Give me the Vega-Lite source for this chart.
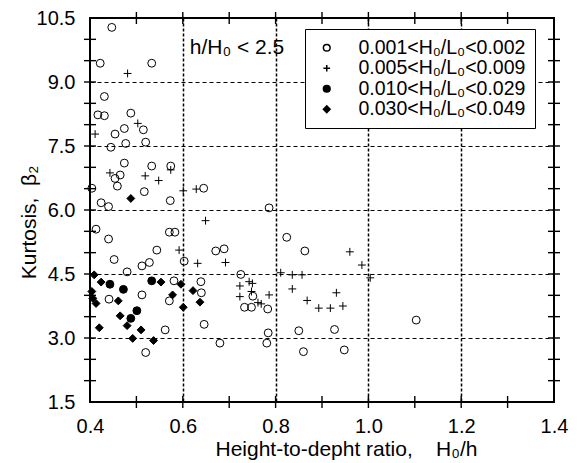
{
  "$schema": "https://vega.github.io/schema/vega-lite/v6.json",
  "width": 464,
  "height": 384,
  "autosize": {"type": "none"},
  "padding": {"left": 90, "top": 18, "right": 27, "bottom": 61},
  "background": "white",
  "config": {
    "font": "Liberation Sans",
    "view": {"stroke": "black", "strokeWidth": 2},
    "axis": {
      "domain": false,
      "labelFont": "Liberation Sans",
      "labelFontSize": 20,
      "labelColor": "black",
      "labelFlush": false,
      "labelOverlap": false,
      "titleFont": "Liberation Sans",
      "titleFontSize": 21,
      "titleFontWeight": "normal",
      "titleColor": "black"
    }
  },
  "datasets": {
    "xticks": [{"t": 0.5}, {"t": 0.6}, {"t": 0.7}, {"t": 0.8}, {"t": 0.9}, {"t": 1.0}, {"t": 1.1}, {"t": 1.2}, {"t": 1.3}],
    "yticks": [{"t": 2}, {"t": 2.5}, {"t": 3}, {"t": 3.5}, {"t": 4}, {"t": 4.5}, {"t": 5}, {"t": 5.5}, {"t": 6}, {"t": 6.5}, {"t": 7}, {"t": 7.5}, {"t": 8}, {"t": 8.5}, {"t": 9}, {"t": 9.5}, {"t": 10}]
  },
  "data": {
    "values": [
      {"x": 0.447, "y": 10.28, "s": "A"}, {"x": 0.422, "y": 9.44, "s": "A"}, {"x": 0.533, "y": 9.44, "s": "A"},
      {"x": 0.431, "y": 8.66, "s": "A"}, {"x": 0.417, "y": 8.23, "s": "A"}, {"x": 0.431, "y": 8.21, "s": "A"},
      {"x": 0.488, "y": 8.27, "s": "A"}, {"x": 0.515, "y": 7.88, "s": "A"}, {"x": 0.474, "y": 7.91, "s": "A"},
      {"x": 0.454, "y": 7.78, "s": "A"}, {"x": 0.445, "y": 7.47, "s": "A"}, {"x": 0.477, "y": 7.56, "s": "A"},
      {"x": 0.520, "y": 7.59, "s": "A"}, {"x": 0.474, "y": 7.10, "s": "A"}, {"x": 0.465, "y": 6.82, "s": "A"},
      {"x": 0.454, "y": 6.74, "s": "A"}, {"x": 0.533, "y": 7.03, "s": "A"}, {"x": 0.574, "y": 7.03, "s": "A"},
      {"x": 0.404, "y": 6.51, "s": "A"}, {"x": 0.459, "y": 6.56, "s": "A"}, {"x": 0.517, "y": 6.43, "s": "A"},
      {"x": 0.573, "y": 6.22, "s": "A"}, {"x": 0.424, "y": 6.17, "s": "A"}, {"x": 0.440, "y": 6.08, "s": "A"},
      {"x": 0.413, "y": 5.55, "s": "A"}, {"x": 0.440, "y": 5.32, "s": "A"}, {"x": 0.571, "y": 5.48, "s": "A"},
      {"x": 0.583, "y": 5.48, "s": "A"}, {"x": 0.544, "y": 5.06, "s": "A"}, {"x": 0.452, "y": 4.84, "s": "A"},
      {"x": 0.528, "y": 4.77, "s": "A"}, {"x": 0.512, "y": 4.69, "s": "A"}, {"x": 0.480, "y": 4.55, "s": "A"},
      {"x": 0.603, "y": 4.80, "s": "A"}, {"x": 0.581, "y": 4.34, "s": "A"}, {"x": 0.441, "y": 3.91, "s": "A"},
      {"x": 0.512, "y": 4.01, "s": "A"}, {"x": 0.571, "y": 3.87, "s": "A"}, {"x": 0.562, "y": 3.19, "s": "A"},
      {"x": 0.520, "y": 2.66, "s": "A"}, {"x": 0.645, "y": 6.51, "s": "A"}, {"x": 0.786, "y": 6.05, "s": "A"},
      {"x": 0.824, "y": 5.36, "s": "A"}, {"x": 0.671, "y": 5.04, "s": "A"}, {"x": 0.689, "y": 5.09, "s": "A"},
      {"x": 0.863, "y": 5.04, "s": "A"}, {"x": 0.725, "y": 4.49, "s": "A"}, {"x": 0.639, "y": 4.32, "s": "A"},
      {"x": 0.640, "y": 4.06, "s": "A"}, {"x": 0.751, "y": 3.98, "s": "A"}, {"x": 0.733, "y": 3.72, "s": "A"},
      {"x": 0.748, "y": 3.72, "s": "A"}, {"x": 0.783, "y": 3.68, "s": "A"}, {"x": 0.646, "y": 3.32, "s": "A"},
      {"x": 0.784, "y": 3.12, "s": "A"}, {"x": 0.850, "y": 3.17, "s": "A"}, {"x": 0.680, "y": 2.88, "s": "A"},
      {"x": 0.781, "y": 2.88, "s": "A"}, {"x": 0.860, "y": 2.68, "s": "A"}, {"x": 0.927, "y": 3.20, "s": "A"},
      {"x": 1.103, "y": 3.42, "s": "A"}, {"x": 0.948, "y": 2.72, "s": "A"},
      {"x": 0.481, "y": 9.20, "s": "B"}, {"x": 0.503, "y": 8.03, "s": "B"}, {"x": 0.411, "y": 7.78, "s": "B"},
      {"x": 0.443, "y": 6.87, "s": "B"}, {"x": 0.574, "y": 6.94, "s": "B"}, {"x": 0.519, "y": 6.80, "s": "B"},
      {"x": 0.548, "y": 6.69, "s": "B"}, {"x": 0.601, "y": 6.45, "s": "B"}, {"x": 0.629, "y": 6.49, "s": "B"},
      {"x": 0.649, "y": 5.75, "s": "B"}, {"x": 0.592, "y": 5.06, "s": "B"}, {"x": 0.632, "y": 4.75, "s": "B"},
      {"x": 0.692, "y": 4.77, "s": "B"}, {"x": 0.811, "y": 4.53, "s": "B"}, {"x": 0.836, "y": 4.48, "s": "B"},
      {"x": 0.857, "y": 4.48, "s": "B"}, {"x": 0.743, "y": 4.32, "s": "B"}, {"x": 0.750, "y": 4.28, "s": "B"},
      {"x": 0.723, "y": 4.22, "s": "B"}, {"x": 0.748, "y": 4.09, "s": "B"}, {"x": 0.723, "y": 3.97, "s": "B"},
      {"x": 0.786, "y": 4.01, "s": "B"}, {"x": 0.836, "y": 4.15, "s": "B"}, {"x": 0.868, "y": 3.88, "s": "B"},
      {"x": 0.762, "y": 3.83, "s": "B"}, {"x": 0.769, "y": 3.80, "s": "B"}, {"x": 0.960, "y": 5.02, "s": "B"},
      {"x": 0.986, "y": 4.71, "s": "B"}, {"x": 1.004, "y": 4.41, "s": "B"}, {"x": 0.931, "y": 4.06, "s": "B"},
      {"x": 0.893, "y": 3.70, "s": "B"}, {"x": 0.918, "y": 3.70, "s": "B"}, {"x": 0.945, "y": 3.75, "s": "B"},
      {"x": 0.443, "y": 4.26, "s": "C"}, {"x": 0.472, "y": 4.14, "s": "C"}, {"x": 0.533, "y": 4.34, "s": "C"},
      {"x": 0.501, "y": 3.64, "s": "C"}, {"x": 0.488, "y": 3.46, "s": "C"},
      {"x": 0.488, "y": 6.27, "s": "D"}, {"x": 0.409, "y": 4.48, "s": "D"}, {"x": 0.424, "y": 4.31, "s": "D"},
      {"x": 0.553, "y": 4.31, "s": "D"}, {"x": 0.596, "y": 4.26, "s": "D"}, {"x": 0.404, "y": 4.09, "s": "D"},
      {"x": 0.406, "y": 3.93, "s": "D"}, {"x": 0.413, "y": 3.81, "s": "D"}, {"x": 0.461, "y": 3.87, "s": "D"},
      {"x": 0.578, "y": 4.01, "s": "D"}, {"x": 0.601, "y": 3.72, "s": "D"}, {"x": 0.465, "y": 3.52, "s": "D"},
      {"x": 0.480, "y": 3.29, "s": "D"}, {"x": 0.420, "y": 3.24, "s": "D"}, {"x": 0.510, "y": 3.19, "s": "D"},
      {"x": 0.492, "y": 2.99, "s": "D"}, {"x": 0.537, "y": 2.94, "s": "D"}, {"x": 0.622, "y": 4.11, "s": "D"},
      {"x": 0.637, "y": 3.84, "s": "D"}
    ]
  },
  "layer": [
    {
      "mark": {"type": "point", "stroke": "black", "strokeWidth": 1, "opacity": 1, "size": 62},
      "encoding": {
        "x": {
          "field": "x", "type": "quantitative",
          "scale": {"domain": [0.4, 1.4], "nice": false, "zero": false},
          "axis": {
            "orient": "bottom",
            "values": [0.4, 0.6, 0.8, 1.0, 1.2, 1.4],
            "format": ".1f",
            "ticks": false,
            "labelPadding": 14,
            "grid": true,
            "gridColor": "black",
            "gridWidth": 1.5,
            "gridDash": [3, 2],
            "gridOpacity": {"condition": {"test": "datum.value > 0.45 && datum.value < 1.35", "value": 1}, "value": 0},
            "title": "Height-to-depht ratio,\u00a0\u00a0\u00a0\u00a0H₀/h",
            "titleX": 256,
            "titleY": 47,
            "titleBaseline": "middle",
            "titleAlign": "center"
          }
        },
        "y": {
          "field": "y", "type": "quantitative",
          "scale": {"domain": [1.5, 10.5], "nice": false, "zero": false},
          "axis": {
            "orient": "left",
            "values": [1.5, 3, 4.5, 6, 7.5, 9, 10.5],
            "format": ".1f",
            "ticks": false,
            "labelPadding": 15,
            "grid": true,
            "gridColor": "black",
            "gridWidth": 1,
            "gridDash": [4, 3],
            "gridOpacity": {"condition": {"test": "datum.value > 2 && datum.value < 10", "value": 1}, "value": 0},
            "title": "Kurtosis,\u00a0\u00a0β₂",
            "titleX": -61,
            "titleY": 204,
            "titleAngle": 270,
            "titleBaseline": "middle",
            "titleAlign": "center"
          }
        },
        "shape": {
          "field": "s", "type": "nominal",
          "scale": {"domain": ["A", "B", "C", "D"], "range": ["circle", "M-1,0H1M0,-1V1", "circle", "diamond"]},
          "legend": {
            "title": null,
            "orient": "none",
            "legendX": 215,
            "legendY": 11,
            "padding": 9,
            "fillColor": "white",
            "strokeColor": "black",
            "labelFont": "Liberation Sans",
            "labelFontSize": 19.5,
            "labelLimit": 400,
            "labelColor": "black",
            "labelOffset": 22,
            "symbolOffset": 3,
            "symbolSize": 45,
            "rowPadding": -0.5,
            "labelExpr": "datum.label == 'A' ? '0.001<H₀/L₀<0.002' : datum.label == 'B' ? '0.005<H₀/L₀<0.009' : datum.label == 'C' ? '0.010<H₀/L₀<0.029' : '0.030<H₀/L₀<0.049'",
            "encode": {"symbols": {"update": {"stroke": {"value": "black"}, "strokeWidth": {"value": 1}}}}
          }
        },
        "fill": {
          "field": "s", "type": "nominal",
          "scale": {"domain": ["A", "B", "C", "D"], "range": ["transparent", "transparent", "black", "black"]},
          "legend": {
            "title": null,
            "orient": "none",
            "legendX": 215,
            "legendY": 11,
            "padding": 9,
            "fillColor": "white",
            "strokeColor": "black",
            "labelFont": "Liberation Sans",
            "labelFontSize": 19.5,
            "labelLimit": 400,
            "labelColor": "black",
            "labelOffset": 22,
            "symbolOffset": 3,
            "symbolSize": 45,
            "rowPadding": -0.5,
            "labelExpr": "datum.label == 'A' ? '0.001<H₀/L₀<0.002' : datum.label == 'B' ? '0.005<H₀/L₀<0.009' : datum.label == 'C' ? '0.010<H₀/L₀<0.029' : '0.030<H₀/L₀<0.049'",
            "encode": {"symbols": {"update": {"stroke": {"value": "black"}, "strokeWidth": {"value": 1}}}}
          }
        }
      }
    },
    {
      "data": {"name": "xticks"},
      "mark": {"type": "tick", "orient": "vertical", "color": "black", "size": 12, "thickness": 1.4, "opacity": 1},
      "encoding": {
        "x": {"field": "t", "type": "quantitative", "axis": null},
        "y": {"datum": 1.5, "type": "quantitative", "axis": null}
      }
    },
    {
      "data": {"name": "xticks"},
      "mark": {"type": "tick", "orient": "vertical", "color": "black", "size": 12, "thickness": 1.4, "opacity": 1},
      "encoding": {
        "x": {"field": "t", "type": "quantitative", "axis": null},
        "y": {"datum": 10.5, "type": "quantitative", "axis": null}
      }
    },
    {
      "data": {"name": "yticks"},
      "mark": {"type": "tick", "orient": "horizontal", "color": "black", "size": 12, "thickness": 1.4, "opacity": 1},
      "encoding": {
        "y": {"field": "t", "type": "quantitative", "axis": null},
        "x": {"datum": 0.4, "type": "quantitative", "axis": null}
      }
    },
    {
      "data": {"name": "yticks"},
      "mark": {"type": "tick", "orient": "horizontal", "color": "black", "size": 12, "thickness": 1.4, "opacity": 1},
      "encoding": {
        "y": {"field": "t", "type": "quantitative", "axis": null},
        "x": {"datum": 1.4, "type": "quantitative", "axis": null}
      }
    },
    {
      "data": {"values": [{"note": "h/H₀ < 2.5"}]},
      "mark": {"type": "text", "align": "left", "baseline": "middle", "font": "Liberation Sans", "fontSize": 21, "color": "black"},
      "encoding": {
        "x": {"datum": 0.615, "type": "quantitative", "axis": null},
        "y": {"datum": 9.8, "type": "quantitative", "axis": null},
        "text": {"field": "note"}
      }
    }
  ],
  "resolve": {"axis": {"x": "independent", "y": "independent"}}
}
